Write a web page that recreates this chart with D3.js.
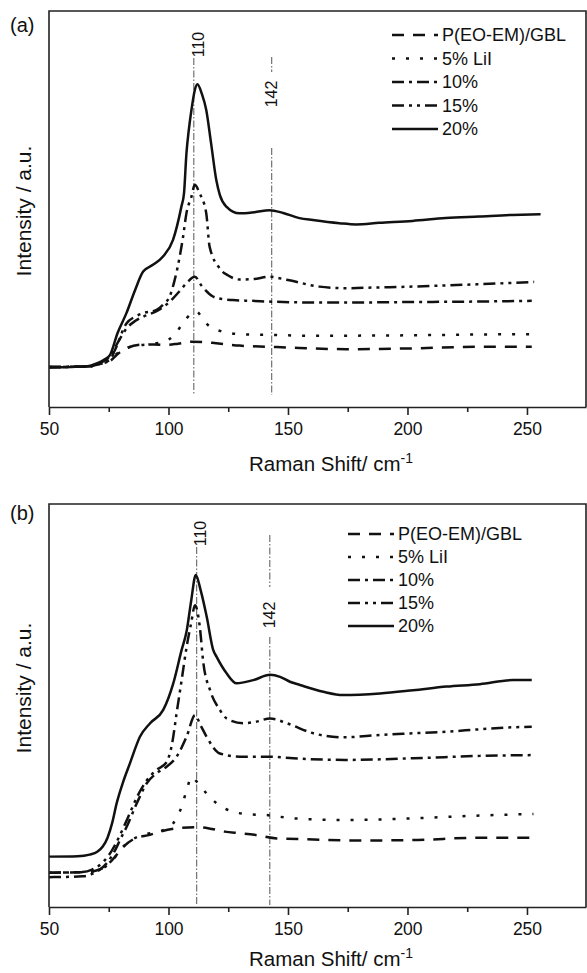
<!DOCTYPE html>
<html>
<head>
<meta charset="utf-8">
<script src="https://cdn.jsdelivr.net/npm/d3@7"></script>
<style>
  body { margin: 0; background: #fff; }
  svg { display: block; font-family: "Liberation Sans", Arial, sans-serif; }
  .curve { fill: none; stroke: #111; stroke-width: 2.5; stroke-linejoin: round; }
  .ref { stroke: #555; stroke-width: 1; stroke-dasharray: 7,2,1.5,2; }
  .axis path, .axis line { stroke: #222; stroke-width: 1.6; }
  .axis text { font-size: 17.5px; fill: #111; font-family: "Liberation Sans", Arial, sans-serif; }
</style>
</head>
<body>
<svg id="chart"></svg>
<script>
// series shared by both panels
const seriesNames = ["P(EO-EM)/GBL", "5% LiI", "10%", "15%", "20%"];
const xTicksMajor = [50, 100, 150, 200, 250];
const xTicksMinor = [75, 125, 175, 225];
const refLabels = ["110", "142"];

// panel (a) -- [Raman shift, relative intensity]
const aGBL = [[50,10.1],[66,10.2],[71,10.8],[75.5,11.6],[79,13.5],[82.4,14.8],[88,15.7],[94,15.8],[99,15.7],[104,16.0],[110,16.5],[115,16.4],[120,16.1],[129.7,15.5],[142.3,15.2],[150.6,15.0],[174.3,14.6],[202,14.8],[230,15.2],[252,15.2]];
const aLiI = [[50,10.1],[66,10.2],[71,10.8],[75.5,11.8],[79,13.8],[83,15.0],[88,15.6],[94,16.0],[98,16.5],[102,17.9],[106,21.1],[109,23.3],[111.7,24.1],[114,22.6],[116.5,20.7],[122.8,19.0],[129.7,18.4],[142.7,18.2],[160,18.0],[200,18.1],[230,18.3],[252,18.4]];
const a10 = [[50,10.1],[66,10.2],[70,10.7],[73,11.6],[75.5,12.8],[79,16.5],[82.4,19.8],[86,21.7],[89.4,22.8],[95,24.2],[99,25.8],[102,27.5],[105,29.5],[108,31.6],[111,32.9],[114,30.5],[118.6,27.9],[123,27.2],[127,27.0],[135,26.8],[143,26.6],[160,26.4],[180,26.4],[200,26.5],[225,26.6],[252,26.8]];
const a15 = [[50,10.1],[66,10.2],[70,10.7],[73,11.3],[75.5,11.9],[77.6,14.4],[82.4,21.1],[86,22.8],[89.4,23.7],[95,24.5],[98,26],[100.5,27.9],[102.6,32.1],[104.7,38.0],[106.1,43.0],[107.5,48.9],[109.6,53.1],[111,56.1],[113,54],[115.8,48.9],[117.2,40.5],[121.4,35.0],[125,33.2],[129.7,32.2],[135.3,32.3],[142.3,32.9],[146.5,32.5],[150.6,32.0],[163.1,30.4],[174.3,30.0],[188,30.2],[202.1,30.4],[216,30.7],[230,31.0],[253,31.6]];
const a20 = [[50,10.0],[66,10.3],[70,11.0],[73,11.9],[75.5,13.1],[78.7,18.7],[82.4,23.7],[86,29.5],[89.4,34.2],[93.5,35.9],[97.7,38.0],[101.9,42.2],[105.4,50.6],[106.5,54],[107.5,64],[108.5,70],[109.6,75],[111,80],[112.1,81.5],[114,79],[115.8,75],[117.8,66.7],[120,57.3],[121.5,53.5],[124.2,50.6],[129.7,48.9],[136,49.2],[142.3,49.7],[148,49.0],[154.8,47.7],[160.4,47.2],[171.5,46.4],[178.5,46.1],[188.2,46.5],[202.1,47.0],[216,47.7],[230,48.1],[243.9,48.5],[255.7,48.7]];
const aRefs = [110.6, 143.2];

// panel (b)
const bGBL = [[50,8.5],[66,8.7],[72,9.5],[76.5,11.7],[81.2,15.0],[85.9,17.0],[92.2,17.9],[97,18.8],[103,19.5],[111.8,19.8],[117,19.5],[123.5,18.7],[130,18.3],[136,17.9],[145.4,17.0],[158,16.8],[176.8,16.5],[201.9,16.6],[229.9,17.2],[252,17.2]];
const bLiI = [[50,8.5],[66,8.7],[72,9.5],[76.5,11.5],[80,14.3],[85,16.8],[90,18.0],[95,18.6],[99,19.4],[102,20.8],[105.5,24.9],[107.6,29.0],[109.7,32.3],[112,31.0],[115.9,28.2],[120.2,25.7],[127.1,23.6],[134,23.0],[141.1,22.8],[152.2,22.0],[174.5,21.6],[202.4,22.0],[230.3,22.7],[252.7,23.1]];
const b10 = [[50,7.4],[64,7.6],[68,8.2],[72,9.6],[75,11.5],[78,14.5],[80,17.0],[82.5,19.9],[86.7,25.7],[90.9,30.7],[95,33.2],[99.2,34.8],[103.4,37.3],[107.6,42.3],[111.1,47.6],[113.5,45],[115.9,42.3],[121.5,38.1],[129.9,37.3],[142.5,37.3],[152.2,36.9],[174.5,36.5],[202.4,36.9],[230.3,37.5],[252.7,37.7]];
const b15 = [[50,8.5],[64,8.7],[68,9.3],[72,10.8],[75,12.8],[78,15.8],[81,19.5],[84,23.5],[87,27.5],[91,31.5],[95,34.0],[99,35.8],[101.5,40.5],[103.4,48.1],[105.5,56.3],[107.6,64.6],[109.5,70.5],[111.1,74.9],[113,70.0],[114.6,60.5],[117.4,53.8],[121.5,48.9],[124.3,46.8],[131.3,45.6],[136.9,46.0],[142.5,46.8],[149.5,45.6],[160.6,43.1],[173.1,42.1],[188.5,42.7],[202.4,43.1],[216.4,43.5],[230.3,44.1],[244.3,44.6],[252,44.7]];
const b20 = [[50,12.5],[62,12.6],[67,13.0],[70.2,13.7],[72.5,15.0],[74.5,17.2],[76.5,21.0],[78.3,25.7],[81,31],[83.9,35.7],[88.1,42.3],[92.3,45.6],[97.8,48.9],[102,55.5],[105.5,63.8],[107.6,68.5],[109.5,76],[111.4,82.4],[113.5,78.5],[116,72.0],[118.7,63.8],[120.2,62],[124.3,58.0],[128.5,55.5],[135.5,56.3],[142.5,57.6],[146.7,57.1],[150.8,55.9],[155,55.1],[164.8,53.4],[173.1,52.6],[188.5,53.0],[202.4,53.8],[216.4,54.7],[230.3,55.3],[244.3,56.3],[252,56.3]];
const bRefs = [111.8, 142.4];

// line styles, same order as seriesNames
const dashes = ["12,9", "3,11", "12,5,3,5", "12,5,3,5,3,5", null];

const W = 587, H = 973;
const svg = d3.select("#chart").attr("width", W).attr("height", H);

const x = d3.scaleLinear().domain([50, 274.7]).range([49, 586]);

function drawPanel(cfg) {
  const y = d3.scaleLinear().domain([0, 100]).range([cfg.bottom, cfg.top]);
  const g = svg.append("g");

  const line = d3.line()
      .x(d => x(d[0]))
      .y(d => y(d[1]))
      .curve(d3.curveMonotoneX);

  // reference lines at 110 / 142
  cfg.refs.forEach((r, i) => {
    const rl = cfg.refLayout[i];
    rl.segs.forEach(s => {
      g.append("line").attr("class", "ref")
          .attr("x1", x(r)).attr("x2", x(r))
          .attr("y1", s[0]).attr("y2", s[1]);
    });
    g.append("text")
        .attr("transform", `translate(${x(r) + rl.dx},${rl.labelY}) rotate(-90)`)
        .attr("text-anchor", "middle")
        .attr("dominant-baseline", "central")
        .attr("font-size", 16)
        .attr("fill", "#111")
        .text(refLabels[i]);
  });

  // curves
  cfg.series.forEach((s, i) => {
    g.append("path")
        .attr("class", "curve")
        .attr("d", line(s))
        .attr("stroke-dasharray", dashes[i]);
  });

  // frame
  const x0 = x.range()[0], x1 = x.range()[1];
  g.append("path")
      .attr("d", `M${x0},${cfg.bottom}V${cfg.top}H${x1}V${cfg.bottom}`)
      .attr("fill", "none").attr("stroke", "#222").attr("stroke-width", 1.6);

  // x axis: major + minor ticks
  g.append("g").attr("class", "axis")
      .attr("transform", `translate(0,${cfg.bottom})`)
      .call(d3.axisBottom(x).tickValues(xTicksMajor).tickSize(8).tickSizeOuter(0).tickPadding(7.5).tickFormat(d3.format("d")));
  g.append("g").attr("class", "axis")
      .attr("transform", `translate(0,${cfg.bottom})`)
      .call(d3.axisBottom(x).tickValues(xTicksMinor).tickSize(5).tickSizeOuter(0).tickFormat(""))
      .select(".domain").remove();

  // axis titles
  const xt = g.append("text")
      .attr("x", 331).attr("y", cfg.bottom + cfg.xTitleDy)
      .attr("text-anchor", "middle")
      .attr("font-size", 20.5)
      .attr("fill", "#111");
  xt.append("tspan").text("Raman Shift/ cm");
  xt.append("tspan").attr("dy", -8).attr("font-size", 14).text("-1");

  g.append("text")
      .attr("transform", `translate(23,${cfg.yTitleY}) rotate(-90)`)
      .attr("text-anchor", "middle")
      .attr("dominant-baseline", "central")
      .attr("font-size", 21)
      .attr("fill", "#111")
      .text("Intensity / a.u.");

  // panel tag
  g.append("text")
      .attr("x", 10).attr("y", cfg.tagY)
      .attr("font-size", 20).attr("fill", "#111")
      .text(cfg.tag);

  // legend
  const lg = g.append("g").attr("transform", `translate(${cfg.legend.x},${cfg.legend.y})`);
  seriesNames.forEach((name, i) => {
    const row = lg.append("g").attr("transform", `translate(0,${i * cfg.legend.step})`);
    row.append("line")
        .attr("x1", 0).attr("x2", 46)
        .attr("stroke", "#111").attr("stroke-width", 2.5)
        .attr("stroke-dasharray", dashes[i]);
    row.append("text")
        .attr("x", 50).attr("dy", "0.36em")
        .attr("font-size", 18).attr("fill", "#111")
        .text(name);
  });
}

drawPanel({
  top: 11, bottom: 407, tag: "(a)", tagY: 32, yTitleY: 211, xTitleDy: 64,
  series: [aGBL, aLiI, a10, a15, a20],
  refs: aRefs,
  refLayout: [
    {dx: 5, labelY: 44.5, segs: [[58, 395]]},
    {dx: 0, labelY: 94, segs: [[57, 72], [148, 395]]}
  ],
  legend: {x: 392, y: 35, step: 23.5}
});

drawPanel({
  top: 504, bottom: 907, tag: "(b)", tagY: 520, yTitleY: 688, xTitleDy: 59,
  series: [bGBL, bLiI, b10, b15, b20],
  refs: bRefs,
  refLayout: [
    {dx: 4, labelY: 533.5, segs: [[547, 905]]},
    {dx: 0, labelY: 615, segs: [[535, 587], [637, 905]]}
  ],
  legend: {x: 348, y: 534, step: 23}
});
</script>
</body>
</html>
